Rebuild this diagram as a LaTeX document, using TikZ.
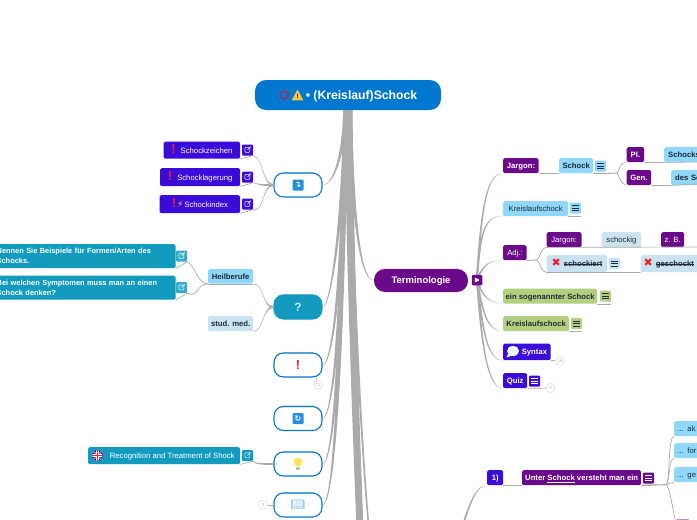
\documentclass[tikz,border=0pt]{standalone}
\usepackage{fontspec}
\setmainfont{Liberation Sans}
\newfontfamily\symfont{DejaVu Sans}
\newfontfamily\emojifont{Noto Emoji}
\usetikzlibrary{calc,shadows,shapes.geometric}
\definecolor{rootb}{HTML}{0277D0}
\definecolor{violet}{HTML}{6A0A8A}
\definecolor{indigo}{HTML}{3A0BD9}
\definecolor{tealb}{HTML}{139BBF}
\definecolor{skyb}{HTML}{8FD8FB}
\definecolor{paleb}{HTML}{C9E3F0}
\definecolor{greenb}{HTML}{B5CF80}
\definecolor{ink}{HTML}{1C2B36}
\definecolor{linkc}{HTML}{ABABAB}
\definecolor{warnr}{HTML}{E8232F}
\definecolor{lamp}{HTML}{FBE45F}
\tikzset{
  bx/.style={rounded corners=1.5, inner sep=0, anchor=north west, minimum height=15, text height=5.6pt, text depth=0pt, font=\fontsize{7.7}{10}\selectfont},
  term/.style={bx, fill=violet, text=white, font=\fontsize{7.7}{10}\selectfont\bfseries},
  sky/.style={bx, fill=skyb, text=ink},
  skybold/.style={sky, font=\fontsize{7.7}{10}\selectfont\bfseries},
  pale/.style={bx, fill=paleb, text=ink},
  palebold/.style={pale, font=\fontsize{7.7}{10}\selectfont\bfseries},
  greenbx/.style={bx, fill=greenb, text=ink, font=\fontsize{7.7}{10}\selectfont\bfseries},
  ind/.style={bx, fill=indigo, text=white},
  indbold/.style={ind, font=\fontsize{7.7}{10}\selectfont\bfseries},
  tealbx/.style={rounded corners=1.5, inner ysep=0, inner xsep=4, anchor=north west, fill=tealb, text=white,
    minimum width=183, minimum height=24, font=\fontsize{7.4}{10}\selectfont\bfseries, align=left, text width=175},
  pill/.style={rounded corners=9.5, minimum width=48, minimum height=24, inner sep=0, line width=1.1,
    draw=rootb, fill=white, drop shadow={opacity=.18, shadow xshift=0, shadow yshift=-1}},
  badge/.style={circle, draw=black!18, fill=white, minimum size=9, inner sep=0, text=black!30, font=\fontsize{4.5}{5}\selectfont},
  menubox/.style 2 args={fill=#1, rounded corners=1, minimum size=11, inner sep=0,
    path picture={\foreach \dy in {-2.5,0,2.5}{\draw[#2,line width=.7] ($(path picture bounding box.center)+(-3.2,\dy)$) -- +(6.4,0);}}},
  linkbox/.style={fill=#1, rounded corners=1, minimum size=11, inner sep=0,
    path picture={\draw[white,line width=.5] ($(path picture bounding box.center)+(-2.6,-2.6)$) rectangle +(5,5);
      \draw[white,line width=.5] ($(path picture bounding box.center)+(0,0)$) -- +(3.4,-3.4);}},
  iconb/.style={fill=rootb!75!skyb, rounded corners=1, minimum size=11, inner sep=0, text=white, font=\symfont\bfseries\fontsize{8}{8}\selectfont},
  thin link/.style={draw=linkc, line width=.7},
}
% tapered links, offset sideways at both ends
\newcommand{\vlink}[6]{\fill[linkc] ($(#1)+(-#5,0)$) .. controls ($(#2)+(-#5,0)$) and ($(#3)+(-#6,0)$) .. ($(#4)+(-#6,0)$)
  -- ($(#4)+(#6,0)$) .. controls ($(#3)+(#6,0)$) and ($(#2)+(#5,0)$) .. ($(#1)+(#5,0)$) -- cycle;}
\newcommand{\hlink}[6]{\fill[linkc] ($(#1)+(0,-#5)$) .. controls ($(#2)+(0,-#5)$) and ($(#3)+(0,-#6)$) .. ($(#4)+(0,-#6)$)
  -- ($(#4)+(0,#6)$) .. controls ($(#3)+(0,#6)$) and ($(#2)+(0,#5)$) .. ($(#1)+(0,#5)$) -- cycle;}
\newcommand{\redx}{{\symfont\color{warnr}\fontsize{11}{9}\selectfont ✖}}
\newcommand{\bang}{{\color{warnr}\bfseries\fontsize{13}{9}\selectfont !}}
\newcommand{\strk}[1]{\setbox0\hbox{#1}\rlap{\rule[2.2pt]{\wd0}{.5pt}}\box0}
\begin{document}
\begin{tikzpicture}[x=1pt,y=-1pt]
\path[use as bounding box, clip] (0,0) rectangle (697,520);

% root and first level
\node [rounded corners=11, fill=rootb, minimum width=186, minimum height=30, inner sep=0, text=white, text height=8.8pt, text depth=0pt,
  font=\fontsize{12.2}{14}\selectfont\bfseries] (root) at (348,95) {\hspace{27pt}• (Kreislauf)Schock};
\node [circle, draw=warnr!70!violet, line width=1.1, minimum size=8, inner sep=0] (ring) at (284.5,95) {};
\fill[lamp!70!orange] (297.5,89.5) -- (303.3,100.3) -- (291.7,100.3) -- cycle;
\node [inner sep=0, font=\fontsize{6}{6}\selectfont\bfseries] (warn) at (297.5,96.5) {!};

\coordinate (trunkL) at (345.5,110);
\coordinate (trunkM) at (348.5,110);
\coordinate (trunkR) at (350,110);
\coordinate (lowA) at (360,530);
\coordinate (lowB) at (369,530);
\coordinate (lowC) at (362,530);

\node [pill] (sign) at (298,185) {};
\node [pill, fill=tealb, draw=tealb, text=white!80!tealb, text height=8.6pt, text depth=0pt, font=\fontsize{12}{12}\selectfont\bfseries] (quest) at (298,307) {?};
\node [pill, text=warnr, text height=8.6pt, text depth=0pt, font=\fontsize{13}{12}\selectfont\bfseries] (excl) at (298,365) {!};
\node [pill] (again) at (298,418.5) {};
\node [pill] (tip) at (298,464) {};
\node [pill] (lit) at (298,505) {};
\node [rounded corners=11, fill=violet, minimum width=94, minimum height=23, inner sep=0, text=white, text height=6.9pt, text depth=0pt,
  font=\fontsize{9.5}{11}\selectfont\bfseries, drop shadow={opacity=.18, shadow xshift=0, shadow yshift=-1}] (termi) at (421,280.5) {Terminologie};

\vlink{trunkL}{344,150}{335,185}{sign.east}{2}{.35}
\vlink{trunkL}{343,220}{331,307}{quest.east}{2}{.35}
\vlink{trunkL}{342.5,300}{331,365}{excl.east}{2.2}{.35}
\vlink{trunkL}{342,350}{331,418}{again.east}{2.2}{.35}
\vlink{trunkL}{341.5,390}{331,464}{tip.east}{2.4}{.35}
\vlink{trunkL}{341,430}{331,505}{lit.east}{2.4}{.35}
\vlink{trunkM}{350,250}{355,400}{lowA}{4}{3.5}
\vlink{trunkR}{351,240}{360,430}{lowB}{1.5}{.8}
\vlink{trunkR}{351,240}{358,430}{lowC}{2}{1}
\vlink{trunkR}{352,205}{359,280.5}{termi.west}{2}{.4}

\node [iconb] (signicon) at (298,185) {↴};
\node [iconb] (againicon) at (298,418.5) {↻};
\node [circle, fill=lamp, minimum size=9, inner sep=0] (bulb) at (298,462) {};
\fill[black!25] (296.3,466.5) rectangle (299.7,470);
\node [inner sep=0, text=paleb!60!rootb, font=\emojifont\fontsize{11.5}{12}\selectfont] (book) at (298,505) {📖};

% left: signs
\node [ind, minimum width=76.5, minimum height=17] (zeichen) at (163.5,141.5) {\bang\hspace{5pt}Schockzeichen};
\node [ind, minimum width=80, minimum height=18] (lagerung) at (160,168) {\bang\hspace{5pt}Schocklagerung};
\node [ind, minimum width=80.5, minimum height=18] (index) at (159.5,195) {\bang\hspace{1pt}{\symfont\color{lamp!70!orange}\fontsize{9}{9}\selectfont ⚡}\hspace{1pt}Schockindex};
\node [linkbox=indigo] (zeichenl) at (247.5,150) {};
\node [linkbox=indigo] (lagerungl) at (247.5,177) {};
\node [linkbox=indigo] (indexl) at (247.5,204) {};
\hlink{sign.west}{262,185}{264,158.5}{zeichenl.south east}{1}{.35}
\hlink{sign.west}{262,185}{262,185.5}{lagerungl.south east}{1}{.35}
\hlink{sign.west}{262,185}{264,213}{indexl.south east}{1}{.35}
\draw[thin link] (zeichenl.south east) -- (zeichen.south east);
\draw[thin link] (lagerungl.south east) -- (lagerung.south east);
\draw[thin link] (indexl.south east) -- (index.south east);

% left: questions
\node [tealbx] (nennen) at (-7.5,244) {Nennen Sie Beispiele für Formen/Arten des Schocks.};
\node [tealbx] (welche) at (-7.5,275.5) {Bei welchen Symptomen muss man an einen Schock denken?};
\node [linkbox=tealb!85!white] (nennenl) at (181.5,256) {};
\node [linkbox=tealb!85!white] (welchel) at (181.5,287.5) {};
\node [skybold, minimum width=45, minimum height=14.5] (heil) at (208,269) {Heilberufe};
\node [palebold, minimum width=45] (stud) at (208,316) {stud. med.};
\hlink{quest.west}{262,307}{264,283.5}{heil.south east}{1}{.35}
\hlink{quest.west}{262,307}{264,331}{stud.south east}{1}{.35}
\draw[thin link] (heil.south east) -- (heil.south west);
\draw[thin link] (heil.south west) .. controls (197,283.5) and (197,268) .. (nennenl.south east) -- (nennen.south east);
\draw[thin link] (heil.south west) .. controls (197,283.5) and (197,299) .. (welchel.south east) -- (welche.south east);

\node [badge] (excln) at (318,385) {21};
\draw[thin link, line width=.5] (316,377) -- (excln);
\node [badge] (litn) at (263,505) {3};
\draw[thin link] (lit.west) -- (litn);

\node [bx, fill=tealb, text=white, minimum width=152, minimum height=17] (recog) at (88,447) {\hspace{16pt}Recognition and Treatment of Shock};
\node [linkbox=tealb] (recogl) at (247.5,455.5) {};
\node [circle, fill=violet!45!black!60!blue, minimum size=11, inner sep=0, path picture={
  \draw[white,line width=1.4] (path picture bounding box.north west) -- (path picture bounding box.south east)
    (path picture bounding box.south west) -- (path picture bounding box.north east);
  \draw[warnr,line width=.5] (path picture bounding box.north west) -- (path picture bounding box.south east)
    (path picture bounding box.south west) -- (path picture bounding box.north east);
  \draw[white,line width=2.6] (path picture bounding box.north) -- (path picture bounding box.south)
    (path picture bounding box.west) -- (path picture bounding box.east);
  \draw[warnr,line width=1.4] (path picture bounding box.north) -- (path picture bounding box.south)
    (path picture bounding box.west) -- (path picture bounding box.east);}] (flag) at (97.5,455.5) {};
\hlink{tip.west}{262,464}{255,464}{recogl.south east}{1}{.35}
\draw[thin link] (recogl.south east) -- (recog.south east);

% right: terminology
\coordinate (hub) at (477,280);
\node [term, minimum width=35.5] (jargon) at (503,158) {Jargon:};
\node [sky, minimum width=34, text=ink, font=\fontsize{7.7}{10}\selectfont\bfseries] (schock) at (559,158) {Schock};
\node [menubox={skyb}{ink}] (schockm) at (600.5,166) {};
\node [term, minimum width=17.5] (pl) at (626.5,147) {Pl.};
\node [skybold, minimum width=50, anchor=north west, align=left, text width=46, inner xsep=4] (plval) at (664,147) {Schocks};
\node [term, minimum width=24.5] (gen) at (626.5,170) {Gen.};
\node [skybold, minimum width=50, align=left, text width=46, inner xsep=4] (genval) at (671,170) {des Sc};
\node [sky, minimum width=65] (kreis) at (503,201) {Kreislaufschock};
\node [menubox={skyb}{ink}] (kreism) at (575.5,208) {};
\node [term, font=\fontsize{7.7}{10}\selectfont, minimum width=23.5] (adj) at (503,245) {Adj.:};
\node [term, font=\fontsize{7.7}{10}\selectfont, minimum width=35] (jargonb) at (546.5,232) {Jargon:};
\node [pale, minimum width=39.5] (schockig) at (601.5,232) {schockig};
\node [term, font=\fontsize{7.7}{10}\selectfont, minimum width=23] (zb) at (661,232) {z. B.};
\node [palebold, minimum width=60.5, minimum height=17] (schockiert) at (546.5,255) {\redx\hspace{3pt}\strk{schockiert}};
\node [menubox={paleb}{ink}] (schockiertm) at (614.5,263.5) {};
\node [palebold, minimum width=70, minimum height=17, align=left, text width=64, inner xsep=3] (geschockt) at (640.5,255) {\redx\hspace{3pt}\strk{geschockt}};
\node [greenbx, minimum width=94] (ein) at (503,288.5) {ein sogenannter Schock};
\node [menubox={greenb}{ink}] (einm) at (605.5,296) {};
\node [greenbx, minimum width=66] (kreisb) at (503,316) {Kreislaufschock};
\node [menubox={greenb}{ink}] (kreisbm) at (576.5,323.5) {};
\node [indbold, minimum width=47.5, minimum height=16.5] (syntax) at (503,343.5) {\hspace{15pt}Syntax};
\fill[white!85!skyb] (508,354) -- (506.5,357.5) -- (512,355.5) -- cycle;
\node [ellipse, fill=white!85!skyb, minimum width=12, minimum height=10, inner sep=0] (bubble) at (513,351) {};
\node [badge] (syntaxn) at (560,361) {16};
\node [indbold, minimum width=24] (quiz) at (503,373) {Quiz};
\node [menubox={indigo}{white}] (quizm) at (534.5,381) {};
\node [badge] (quizn) at (550.5,388) {3};

\vlink{hub}{481,212}{486,173}{jargon.south west}{1}{.4}
\vlink{hub}{480,225}{488,215}{kreis.south west}{1}{.4}
\vlink{hub}{484,262}{492,260}{adj.south west}{1}{.4}
\vlink{hub}{482,296}{489,303}{ein.south west}{1}{.4}
\vlink{hub}{483,315}{488,331}{kreisb.south west}{1}{.4}
\vlink{hub}{483,335}{488,360}{syntax.south west}{1}{.4}
\vlink{hub}{482,350}{488,388}{quiz.south west}{1}{.4}
\node [fill=violet, rounded corners=1, minimum size=10.5, inner sep=0, path picture={
  \fill[white] ($(path picture bounding box.center)+(-2.2,-2.6)$) -- +(5,2.6) -- +(0,5.2) -- cycle;}] (more) at (hub) {};

\draw[thin link] (jargon.south east) -- (schock.south west);
\draw[thin link, line width=1] (schock.south east) -- (schockm.south east |- schock.south) -- (617,173);
\draw[thin link] (617,173) .. controls (620,168) and (621,162) .. (pl.south west) (pl.south east) -- (plval.south west) -- (697,162);
\draw[thin link] (617,173) .. controls (620,178) and (621,184) .. (gen.south west) (gen.south east) -- (genval.south west) -- (697,184);
\draw[thin link] (kreis.south east) -- (kreism.south east |- kreis.south);
\draw[thin link, line width=1] (adj.south east) -- (537,260);
\draw[thin link] (537,260) .. controls (541,256) and (541,247) .. (jargonb.south west) -- (697,247);
\draw[thin link] (537,260) .. controls (541,264) and (541,272) .. (schockiert.south west) -- (schockiert.south east) -- (geschockt.south west);
\draw[thin link] (ein.south east) -- (einm.south east |- ein.south);
\draw[thin link] (kreisb.south east) -- (kreisbm.south east |- kreisb.south);
\draw[thin link] (syntax.south east) -- (syntaxn);
\draw[thin link] (quiz.south east) -- (quizn);

% right: definition
\coordinate (lowD) at (460,535);
\node [indbold, minimum width=16] (one) at (487,470) {1)};
\node [term, minimum width=119] (unter) at (522,470) {Unter \underline{Schock} versteht man ein};
\node [menubox={violet}{white}] (unterm) at (648.5,478) {};
\node [sky, minimum width=50, align=left, text width=44, inner xsep=3] (akut) at (674,421) {... ak};
\node [sky, minimum width=50, align=left, text width=44, inner xsep=3] (fort) at (674,443) {... for};
\node [sky, minimum width=50, align=left, text width=44, inner xsep=3] (gen2) at (674,467) {... ge};
\node [bx, fill=violet!45!white, minimum width=15] (lower) at (675,519) {};
\coordinate (fork) at (666.5,484.5);
\vlink{lowD}{470,500}{477,485}{one.south west}{1}{.4}
\draw[thin link] (one.south east) -- (unter.south west);
\hlink{unter.south east}{650,485}{660,485}{fork}{.7}{.5}
\draw[thin link] (fork) .. controls (670,480) and (668,436) .. (akut.south west);
\draw[thin link] (fork) .. controls (670,478) and (669,458) .. (fort.south west);
\draw[thin link] (fork) .. controls (669,484) and (671,482) .. (gen2.south west);
\draw[thin link] (fork) .. controls (670,490) and (672,505) .. (lower.north west);
\end{tikzpicture}
\end{document}
